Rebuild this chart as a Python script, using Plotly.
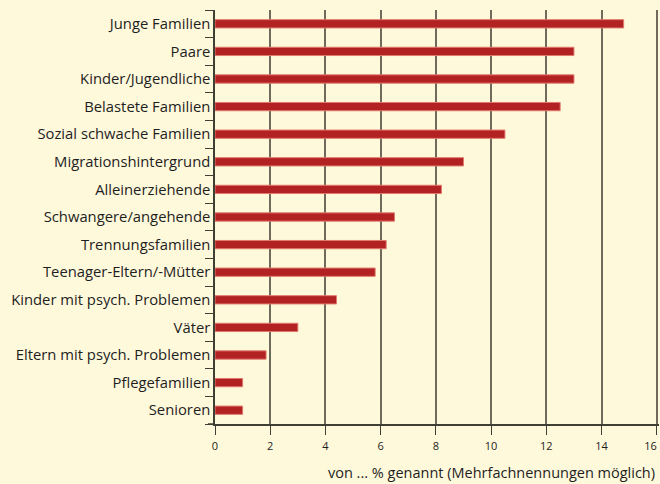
import plotly.graph_objects as go

categories = ["Junge Familien", "Paare", "Kinder/Jugendliche", "Belastete Familien",
              "Sozial schwache Familien", "Migrationshintergrund", "Alleinerziehende",
              "Schwangere/angehende", "Trennungsfamilien", "Teenager-Eltern/-Mütter",
              "Kinder mit psych. Problemen", "Väter", "Eltern mit psych. Problemen",
              "Pflegefamilien", "Senioren"]
values = [14.8, 13.0, 13.0, 12.5, 10.5, 9.0, 8.2, 6.5, 6.2, 5.8, 4.4, 3.0, 1.85, 1.0, 1.0]
x_ticks = [0, 2, 4, 6, 8, 10, 12, 14, 16]
x_tick_labels = ["0", "2", "4", "6", "8", "10", "12", "14", "16\u2007\u2007"]
x_title = "von ... % genannt (Mehrfachnennungen möglich)"

bg = "#FEF9DB"
axis_col = "#3f3f33"
fig = go.Figure(go.Bar(
    x=values, y=categories, orientation="h",
    marker=dict(color="#B22222", line=dict(color="#E07A6E", width=1)),
    width=0.3,
))
fig.update_layout(
    width=660, height=484,
    paper_bgcolor=bg, plot_bgcolor=bg,
    margin=dict(l=215, r=1, t=10, b=60, autoexpand=False),
    font=dict(family="Open Sans, sans-serif", color="#1e1e1e"),
    showlegend=False,
)
fig.update_xaxes(
    range=[0, 16.08], tickvals=x_ticks, ticktext=x_tick_labels,
    showgrid=True, gridcolor="#6f6a5c", gridwidth=1.5,
    showline=True, linecolor=axis_col, linewidth=1.5,
    ticks="outside", ticklen=9, tickcolor=axis_col,
    tickfont=dict(size=11), zeroline=False, automargin=False,
    ticklabeloverflow="allow", ticklabelstandoff=2,
)
fig.update_yaxes(
    categoryorder="array", categoryarray=categories[::-1],
    showline=True, linecolor=axis_col, linewidth=1.5,
    ticks="outside", tickson="boundaries", ticklen=8, tickcolor=axis_col,
    tickfont=dict(size=14.8), showgrid=False, automargin=False,
)
# extension of the base line to the left of the value axis
fig.add_shape(type="line", xref="paper", yref="paper", x0=-7 / 444, x1=0, y0=0, y1=0,
              line=dict(color=axis_col, width=1.5))
fig.add_annotation(
    text=x_title, xref="paper", yref="paper", x=1, y=0, xanchor="right", yanchor="top",
    xshift=-2, yshift=-37, showarrow=False, font=dict(size=14.5),
)
fig.write_html("out.html", config={"displayModeBar": False},
               post_script="document.body.style.margin='0';document.body.style.overflow='hidden';")
